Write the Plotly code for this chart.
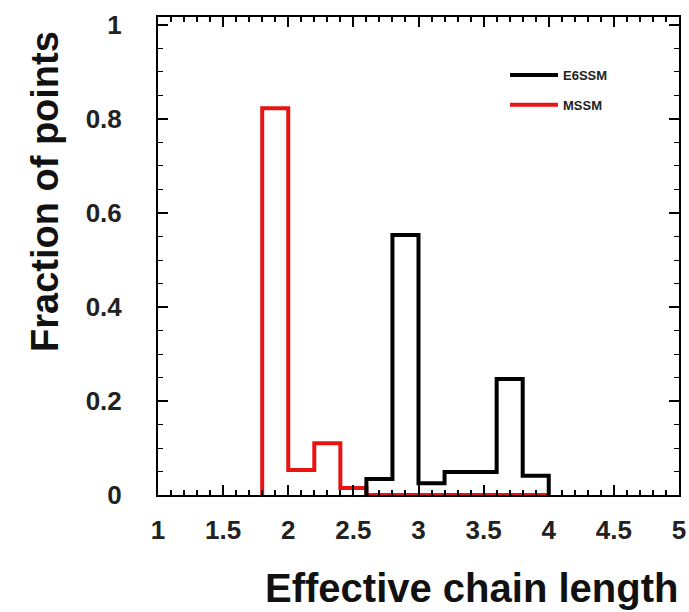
import plotly.graph_objects as go

# Data (bin edges, 0.2 wide) and fraction of points per bin
mssm_edges = [1.8, 2.0, 2.2, 2.4, 2.6, 2.8, 3.0, 3.2, 3.4, 3.6, 3.8, 4.0]
mssm_values = [0.823, 0.053, 0.110, 0.015, 0.0, 0.0, 0.0, 0.0, 0.0, 0.0, 0.0]

e6ssm_edges = [2.6, 2.8, 3.0, 3.2, 3.4, 3.6, 3.8, 4.0]
e6ssm_values = [0.034, 0.553, 0.025, 0.049, 0.049, 0.247, 0.041]

x_ticks = [1, 1.5, 2, 2.5, 3, 3.5, 4, 4.5, 5]
x_ticktext = ["1", "1.5", "2", "2.5", "3", "3.5", "4", "4.5", "5"]
y_ticks = [0, 0.2, 0.4, 0.6, 0.8, 1]
y_ticktext = ["0", "0.2", "0.4", "0.6", "0.8", "1"]


def steps(edges, values):
    xs, ys = [edges[0]], [0]
    for i, v in enumerate(values):
        xs += [edges[i], edges[i + 1]]
        ys += [v, v]
    xs.append(edges[-1])
    ys.append(0)
    return xs, ys


FONT = "Arial, 'Liberation Sans', sans-serif"

fig = go.Figure()
mx, my = steps(mssm_edges, mssm_values)
ex, ey = steps(e6ssm_edges, e6ssm_values)
fig.add_trace(go.Scatter(x=mx, y=my, mode="lines", name="MSSM",
                         line=dict(color="#e81414", width=4), legendrank=2,
                         legendgroup="b"))
fig.add_trace(go.Scatter(x=ex, y=ey, mode="lines", name="E6SSM",
                         line=dict(color="black", width=4), legendrank=1,
                         legendgroup="a"))

axis_common = dict(
    showline=True, linecolor="black", linewidth=2, mirror="allticks",
    ticks="inside", ticklen=10, tickwidth=2, tickcolor="black",
    showgrid=False, zeroline=False, automargin=False,
    tickfont=dict(family=FONT, size=26, color="#222", weight="bold"),
)

fig.update_xaxes(range=[1, 5], tickvals=x_ticks, ticktext=x_ticktext,
                 ticklabelstandoff=11,
                 minor=dict(ticks="inside", dtick=0.1, ticklen=5,
                            tickwidth=2, tickcolor="black"),
                 **axis_common)
fig.update_yaxes(range=[0, 1.017], tickvals=y_ticks, ticktext=y_ticktext,
                 ticklabelstandoff=29,
                 minor=dict(ticks="inside", dtick=0.05, ticklen=5,
                            tickwidth=1, tickcolor="black"),
                 **axis_common)

fig.update_layout(
    width=689, height=612,
    margin=dict(l=158, r=10, t=17, b=117, autoexpand=False),
    paper_bgcolor="white", plot_bgcolor="white",
    font=dict(family=FONT, color="#222"),
    showlegend=True,
    legend=dict(x=(505 - 158) / 521, y=0.91, xanchor="left", yanchor="top",
                bgcolor="rgba(0,0,0,0)", itemwidth=48,
                tracegroupgap=10,
                font=dict(family=FONT, size=13, color="#222", weight="bold")),
    annotations=[
        dict(text="<b>Effective chain length</b>", xref="paper", yref="paper",
             x=(471 - 158) / 521, y=-(588 - 495) / 478, xanchor="center",
             yanchor="middle", showarrow=False,
             font=dict(family=FONT, size=40, color="#111")),
        dict(text="<b>Fraction of points</b>", xref="paper", yref="paper",
             x=-(158 - 45) / 521, y=(495 - 192) / 478, xanchor="center",
             yanchor="middle", showarrow=False, textangle=-90,
             font=dict(family=FONT, size=38, color="#111")),
    ],
)

fig.write_html("out.html", config={"displayModeBar": False},
               post_script="document.body.style.margin='0';document.body.style.overflow='hidden';")
